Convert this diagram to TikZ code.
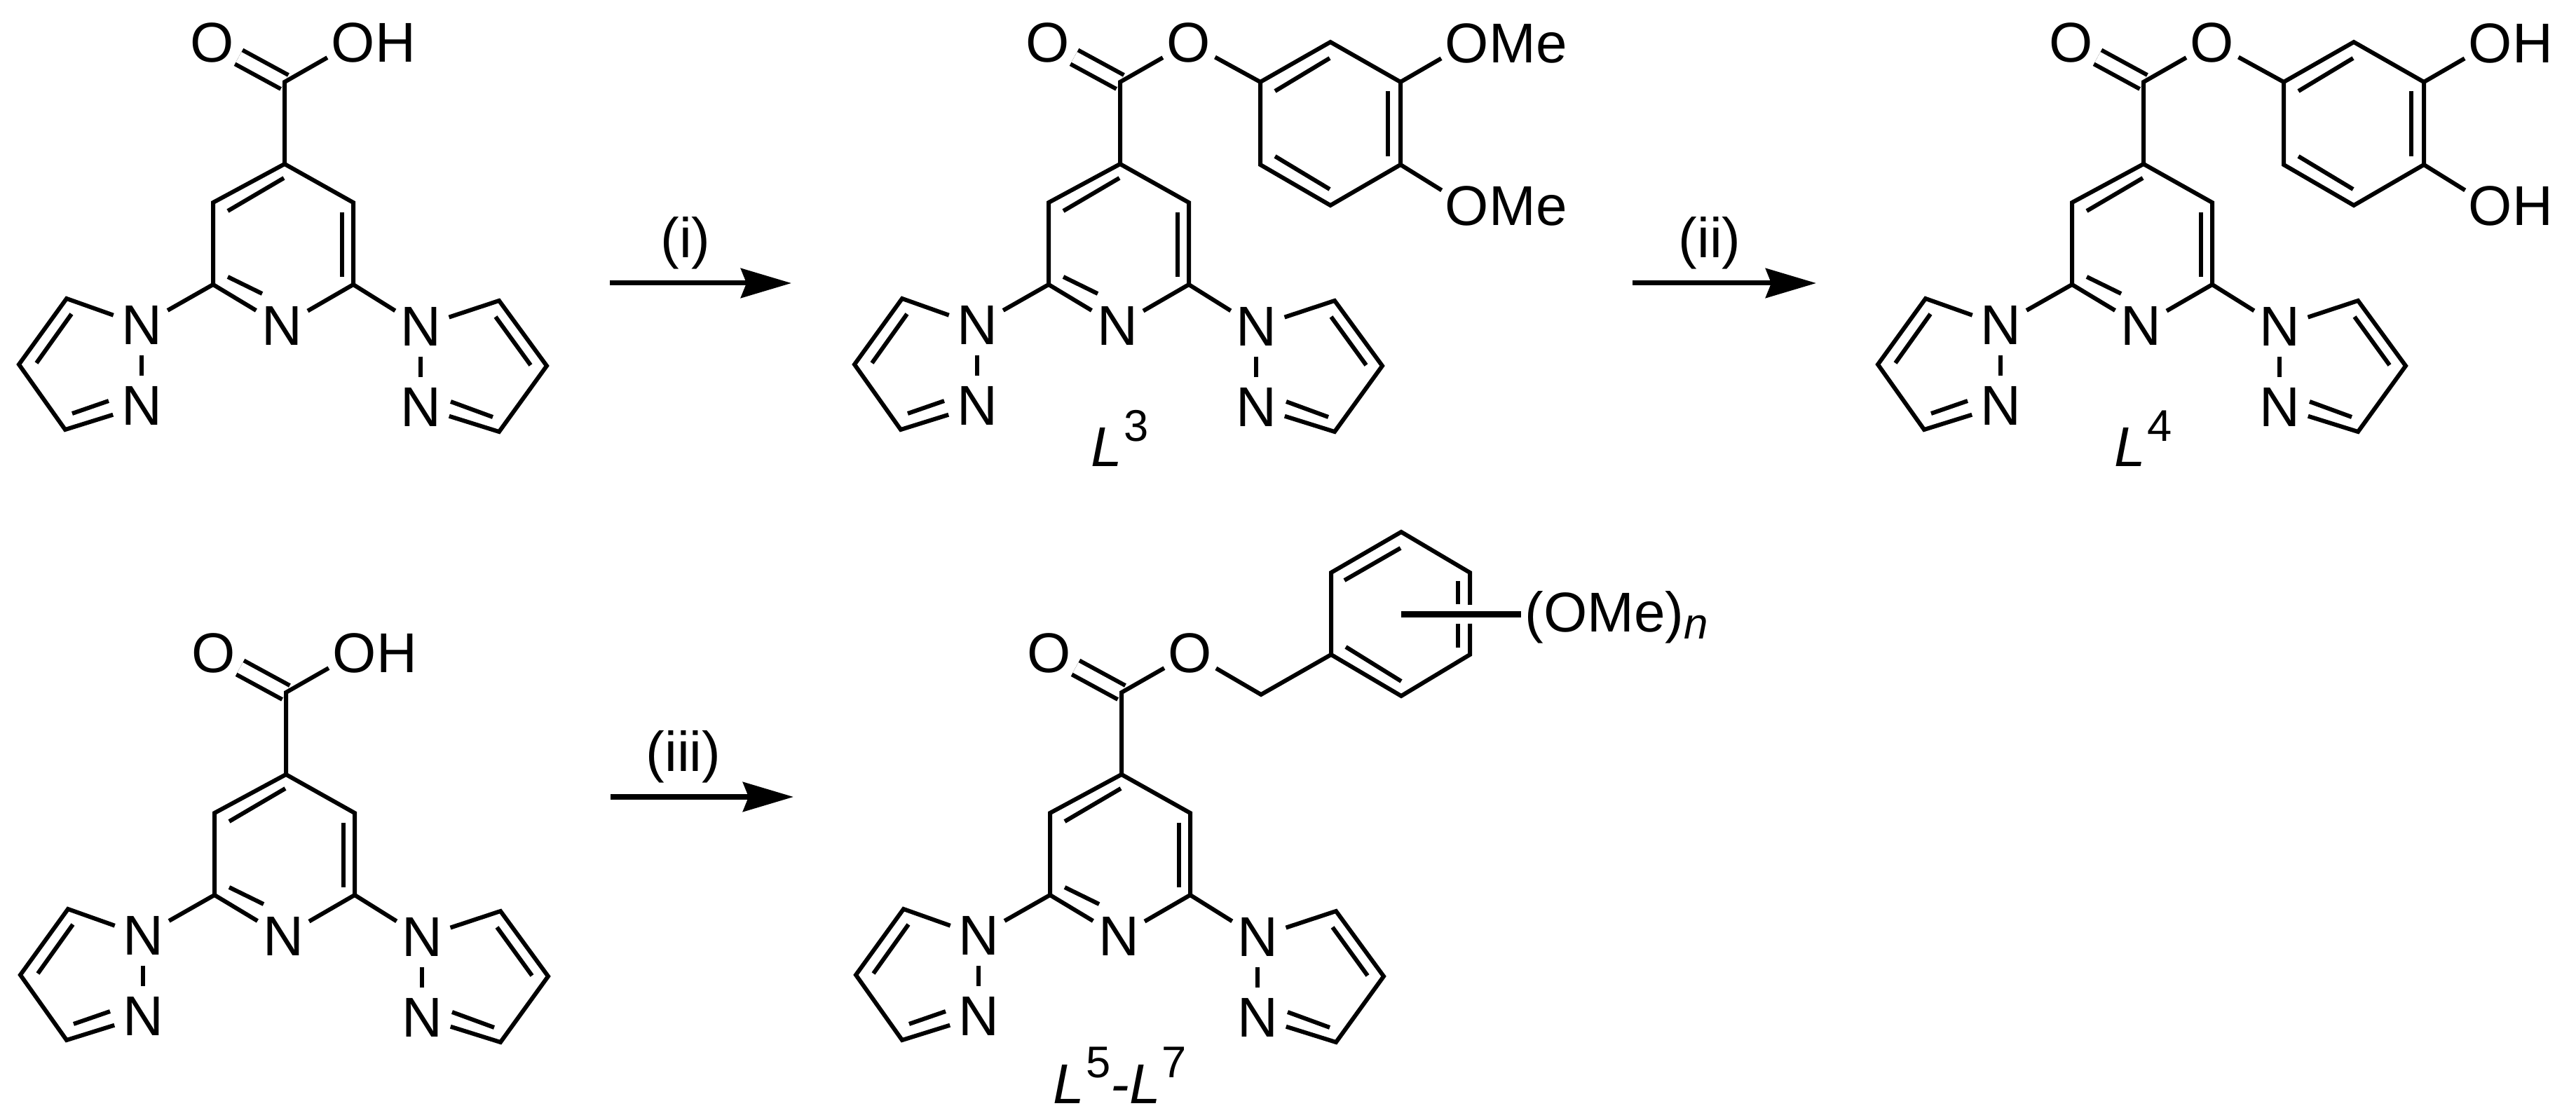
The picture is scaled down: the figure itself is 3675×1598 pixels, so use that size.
\documentclass[tikz,border=0pt]{standalone}
\usepackage{fontspec}
\setmainfont{Liberation Sans}
\usetikzlibrary{arrows.meta}
\newcommand{\ligand}[1]{\textit{L}\hspace{.02cm}\raisebox{.36cm}{\fontsize{18}{18}\selectfont #1}}
\tikzset {
	atom/.style={circle, inner sep=0pt, minimum size=.84cm, font=\fontsize{22.76}{24}\selectfont},
	tail/.style={inner sep=0pt, anchor=base west, xshift=.31cm, font=\fontsize{22.76}{24}\selectfont},
	caption/.style={inner sep=0pt, anchor=base west, font=\fontsize{22.76}{24}\selectfont},
	bond/.style={draw, line width=.06cm, line join=miter},
	carbonyl/.style={bond, double, double distance=.165cm},
	reaction/.style={draw, line width=.07cm, -{Stealth[length=.72cm, width=.42cm, inset=.08cm]}},
	core/.pic={
		\node [atom] (Npy) at (402,465) {N};
		\node [atom] (Nl) at (202,464) {N};
		\node [atom] (Nm) at (202,579) {N};
		\node [atom] (Nr) at (600,466) {N};
		\node [atom] (Ns) at (600,581) {N};
		\node [atom] (Oa) at (303,61) {O};
		\node [atom] (Ob) at (504,61) {O};
		\coordinate (CO) at (406,117);
		\coordinate (Ca) at (406,234);
		\coordinate (Cb) at (304,289);
		\coordinate (Cc) at (304,406);
		\coordinate (Cd) at (504,289);
		\coordinate (Ce) at (504,406);
		\coordinate (Pa) at (95,426);
		\coordinate (Pb) at (27,520);
		\coordinate (Pc) at (93,613);
		\coordinate (Qa) at (712,429);
		\coordinate (Qb) at (780,522);
		\coordinate (Qc) at (712,616);
		\draw [carbonyl] (CO) -- (Oa);
		\draw [bond] (Ca) -- (CO) -- (Ob);
		\draw [bond] (Npy) -- (Cc) -- (Cb) -- (Ca) -- (Cd) -- (Ce) -- (Npy);
		\draw [bond] (Nl) -- (Cc);
		\draw [bond] (Ce) -- (Nr);
		\draw [bond] (Nl) -- (Pa) -- (Pb) -- (Pc) -- (Nm);
		\draw [bond] (Nl) -- (Nm);
		\draw [bond] (Nr) -- (Qa) -- (Qb) -- (Qc) -- (Ns);
		\draw [bond] (Nr) -- (Ns);
		\draw [bond] (325,301) -- (405,254);
		\draw [bond] (488,303) -- (488,395);
		\draw [bond] (325,395) -- (374,419);
		\draw [bond] (102,448) -- (52,518);
		\draw [bond] (103,590) -- (155,572);
		\draw [bond] (707,452) -- (757,521);
		\draw [bond] (643,573) -- (703,595);
	},
	phenyl/.pic={
		\node [atom] (Oc) at (901,62) {O};
		\node [atom] (Od) at (901,294) {O};
		\node [tail] (Te) at (Oc.base) {#1};
		\node [tail] (Tf) at (Od.base) {#1};
		\coordinate (Ar1) at (606,117);
		\coordinate (Ar2) at (706,60);
		\coordinate (Ar3) at (806,117);
		\coordinate (Ar4) at (806,235);
		\coordinate (Ar5) at (706,293);
		\coordinate (Ar6) at (606,235);
		\draw [bond] (Ob) -- (Ar1) -- (Ar2) -- (Ar3) -- (Ar4) -- (Ar5) -- (Ar6) -- (Ar1);
		\draw [bond] (Ar3) -- (Oc);
		\draw [bond] (Ar4) -- (Od);
		\draw [bond] (627,130) -- (705,83);
		\draw [bond] (788,130) -- (788,223);
		\draw [bond] (627,223) -- (705,270);
	}
}
\begin{document}
\begin{tikzpicture}[x=.01cm, y=-.01cm]
	\useasboundingbox (0,0) rectangle (3675,1598);
	\pic (acid) at (0,0) {core};
	\node [tail] (acidH) at (acidOb.base) {H};
	\pic (ether) at (1192,0) {core};
	\pic (ether) at (1192,0) {phenyl=Me};
	\pic (diol) at (2652,0) {core};
	\pic (diol) at (2652,0) {phenyl=H};
	\pic (lowAcid) at (2,871) {core};
	\node [tail] (lowAcidH) at (lowAcidOb.base) {H};
	\pic (benzyl) at (1194,871) {core};

	\coordinate (benzylCH) at (1799,991);
	\coordinate (Ar1) at (1899,934);
	\coordinate (Ar2) at (1999,993);
	\coordinate (Ar3) at (2097,934);
	\coordinate (gapA) at (2097,890);
	\coordinate (gapB) at (2097,863);
	\coordinate (Ar4) at (2097,817);
	\coordinate (Ar5) at (1999,759);
	\coordinate (Ar6) at (1899,817);
	\coordinate (subRoot) at (1999,877);
	\node [caption] (omeN) at (2175,902) {(OMe)\raisebox{-.09cm}{\fontsize{17.6}{18}\selectfont\textit{n}}};
	\draw [bond] (benzylOb) -- (benzylCH) -- (Ar1) -- (Ar2) -- (Ar3) -- (gapA);
	\draw [bond] (gapB) -- (Ar4) -- (Ar5) -- (Ar6) -- (Ar1);
	\draw [bond] (1918,828) -- (1998,782);
	\draw [bond] (1920,923) -- (1999,972);
	\draw [bond] (2080,829) -- (2080,862);
	\draw [bond] (2080,890) -- (2080,924);
	\draw [bond, line width=.09cm] (subRoot) -- (2170,877);

	\coordinate (stepAs) at (870,404);
	\coordinate (stepAe) at (1129,404);
	\coordinate (stepBs) at (2329,404);
	\coordinate (stepBe) at (2591,404);
	\coordinate (stepCs) at (871,1137);
	\coordinate (stepCe) at (1132,1137);
	\draw [reaction] (stepAs) -- (stepAe);
	\draw [reaction] (stepBs) -- (stepBe);
	\draw [reaction] (stepCs) -- (stepCe);
	\node [atom] (stepAtext) at (978,347) {(i)};
	\node [atom] (stepBtext) at (2439,347) {(ii)};
	\node [atom] (stepCtext) at (975,1080) {(iii)};

	\node [caption] (ligandC) at (1556,666) {\ligand{3}};
	\node [caption] (ligandD) at (3016,666) {\ligand{4}};
	\node [caption] (ligandE) at (1502,1574) {\ligand{5}\textit{-}\ligand{7}};
\end{tikzpicture}
\end{document}
